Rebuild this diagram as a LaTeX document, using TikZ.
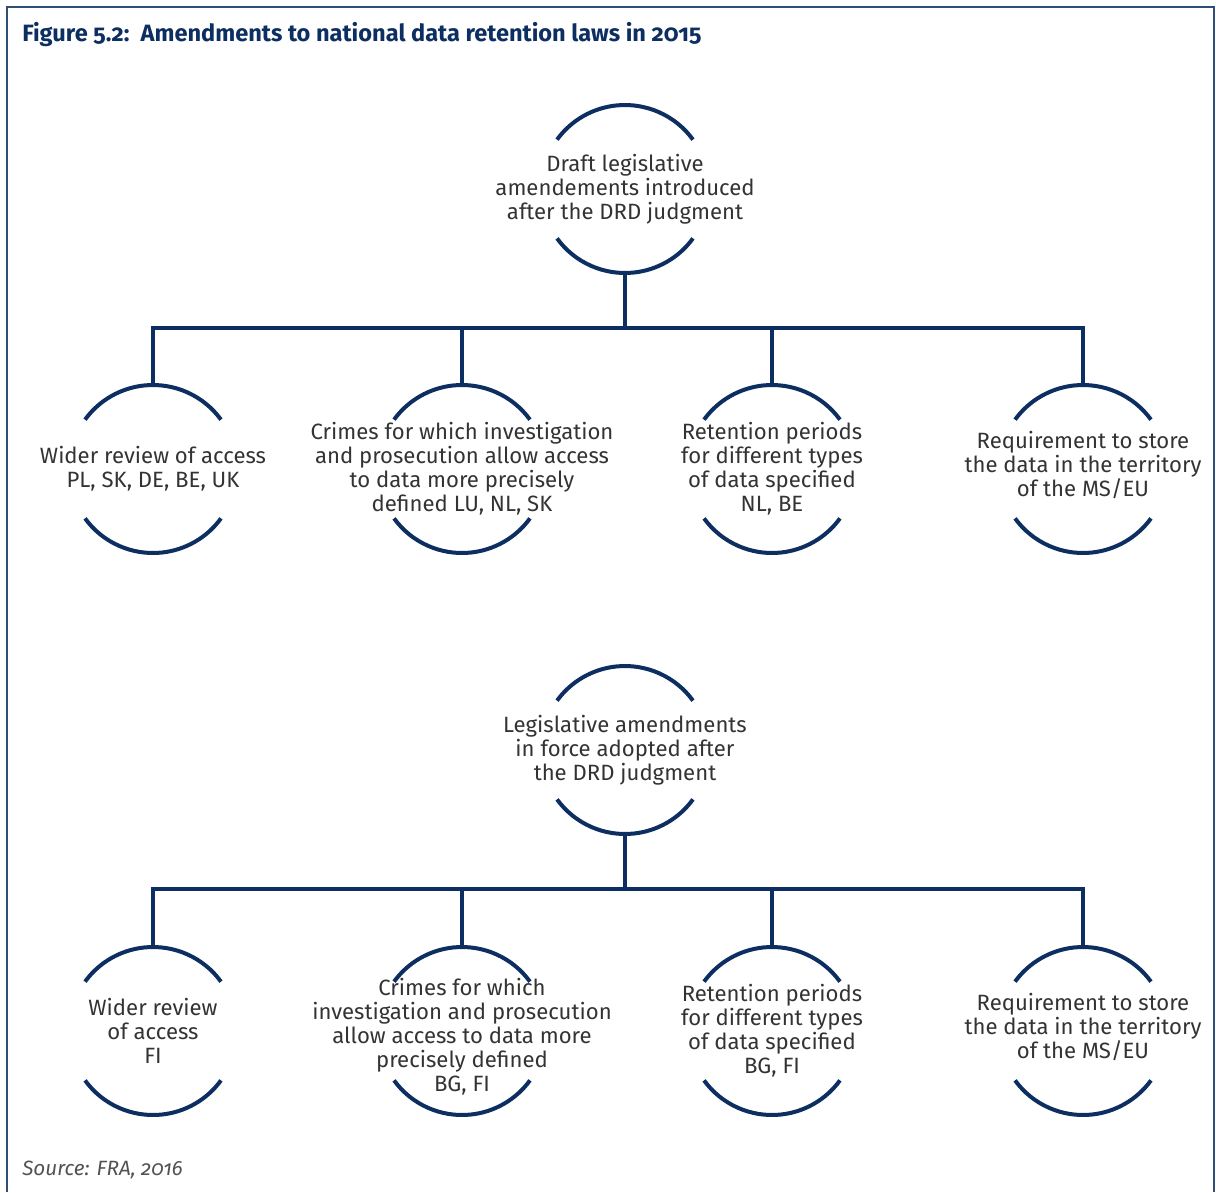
\documentclass[tikz,border=0pt]{standalone}
\usepackage{fontspec}
\setmainfont{Fira Sans}[Numbers=OldStyle]
\usetikzlibrary{positioning}
\definecolor{frablue}{RGB}{12,46,96}
\definecolor{fratext}{RGB}{51,51,51}
\tikzset{ring/.style={circle, minimum size=126pt, inner sep=0pt, outer sep=0pt}}
\tikzset{txt/.style={align=center, text=fratext, font=\fontsize{16.6}{18}\selectfont}}
\tikzset{ln/.style={draw=frablue, line width=3pt}}
\tikzset{frm/.style={draw=frablue!85, line width=1.5pt}}

\begin{document}
\begin{tikzpicture}[on grid, x=0.75pt, y=0.75pt]
        \useasboundingbox (0,0) rectangle (1216,-1192);
        \draw[frm] (7,-1192) -- (7,-7) -- (1214,-7) -- (1214,-1192);

        \node[anchor=west, inner xsep=0pt, text=frablue, font=\bfseries\fontsize{17.7}{20}\selectfont] (title) at (22,-35) {Figure 5.2:\ \ Amendments to national data retention laws in 2015};

        % draft amendments
        \node[ring, label={[txt]center:{Draft legislative\\amendements introduced\\after the DRD judgment}}] (d0) at (625,-189) {};
        \node[ring, below=210pt of d0, xshift=-354pt, label={[txt]center:{Wider review of access\\PL, SK, DE, BE, UK}}] (d1) {};
        \node[ring, below=210pt of d0, xshift=-122.25pt, label={[txt]center:{Crimes for which investigation\\and prosecution allow access\\to data more precisely\\defined LU, NL, SK}}] (d2) {};
        \node[ring, below=210pt of d0, xshift=110.25pt, label={[txt]center:{Retention periods\\for different types\\of data specified\\NL, BE}}] (d3) {};
        \node[ring, below=210pt of d0, xshift=343.5pt, label={[txt, yshift=3pt]center:{Requirement to store\\the data in the territory\\of the MS/EU}}] (d4) {};
        \coordinate (bus1) at (625,-328);

        % amendments in force
        \node[ring, label={[txt]center:{Legislative amendments\\in force adopted after\\the DRD judgment}}] (f0) at (625,-750) {};
        \node[ring, below=210.75pt of f0, xshift=-354pt, label={[txt]center:{Wider review\\of access\\FI}}] (f1) {};
        \node[ring, below=210.75pt of f0, xshift=-122.25pt, label={[txt, yshift=-4pt]center:{Crimes for which\\investigation and prosecution\\allow access to data more\\precisely defined\\BG, FI}}] (f2) {};
        \node[ring, below=210.75pt of f0, xshift=110.25pt, label={[txt]center:{Retention periods\\for different types\\of data specified\\BG, FI}}] (f3) {};
        \node[ring, below=210.75pt of f0, xshift=343.5pt, label={[txt, yshift=3pt]center:{Requirement to store\\the data in the territory\\of the MS/EU}}] (f4) {};
        \coordinate (bus2) at (625,-889);

        \foreach \n in {d0,d1,d2,d3,d4,f0,f1,f2,f3,f4} {
            \draw[ln] (\n.36) arc[start angle=36, end angle=144, radius=84];
            \draw[ln] (\n.216) arc[start angle=216, end angle=324, radius=84];
        }

        \draw[ln] (d0.south) -- (bus1);
        \draw[ln] (d1.north) -- (d1.north |- bus1) -- (d4.north |- bus1) -- (d4.north);
        \draw[ln] (d2.north) -- (d2.north |- bus1);
        \draw[ln] (d3.north) -- (d3.north |- bus1);

        \draw[ln] (f0.south) -- (bus2);
        \draw[ln] (f1.north) -- (f1.north |- bus2) -- (f4.north |- bus2) -- (f4.north);
        \draw[ln] (f2.north) -- (f2.north |- bus2);
        \draw[ln] (f3.north) -- (f3.north |- bus2);

        \node[anchor=west, inner xsep=0pt, text=fratext!85, font=\itshape\fontsize{15.5}{18}\selectfont] (src) at (22,-1170) {Source: FRA, 2016};
    \end{tikzpicture}
\end{document}
